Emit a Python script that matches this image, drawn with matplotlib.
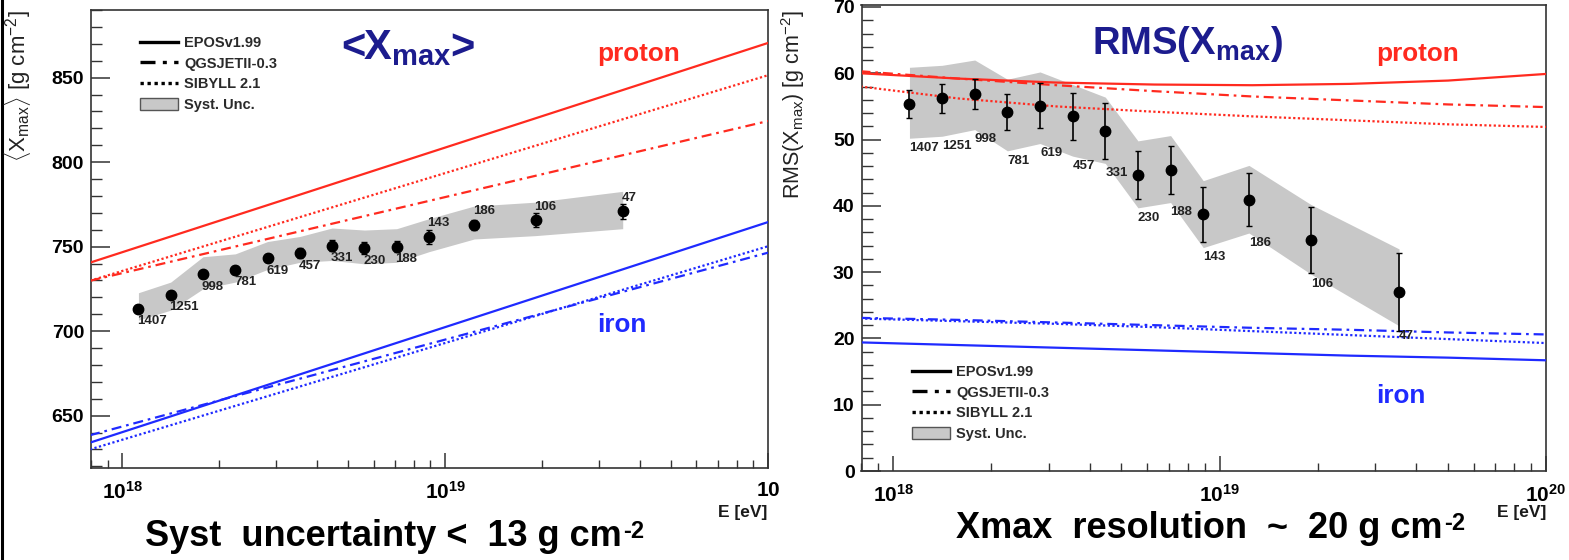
import numpy as np
import matplotlib
matplotlib.use("Agg")
import matplotlib.pyplot as plt
from matplotlib.lines import Line2D
from matplotlib.patches import Patch
from matplotlib.text import Annotation
from matplotlib.ticker import LogLocator, MultipleLocator, NullFormatter, FixedLocator

plt.rcParams['font.family'] = ['Liberation Sans', 'DejaVu Sans']
plt.rcParams['mathtext.fontset'] = 'custom'
plt.rcParams['mathtext.rm'] = 'Liberation Sans'
plt.rcParams['mathtext.it'] = 'Liberation Sans'
plt.rcParams['mathtext.bf'] = 'Liberation Sans:bold'

# ---- measured data (log10 of energy in eV) ----
lgE = [18.05, 18.15, 18.25, 18.35, 18.45, 18.55, 18.65, 18.75, 18.85, 18.95, 19.09, 19.28, 19.55]
n_events = [1407, 1251, 998, 781, 619, 457, 331, 230, 188, 143, 186, 106, 47]

xmax_mean = [713.2, 721.6, 733.5, 736.3, 743.2, 746.1, 750.6, 749.1, 750.0, 755.7, 762.9, 765.5, 770.8]
xmax_mean_err = [2.0, 2.0, 2.2, 2.5, 2.6, 2.8, 3.2, 3.4, 3.4, 3.9, 3.1, 4.1, 4.7]
xmax_mean_sys_hi = [722.7, 729.0, 744.0, 745.7, 753.0, 756.0, 761.0, 759.8, 760.6, 766.5, 774.0, 776.3, 782.7]
xmax_mean_sys_lo = [706.5, 712.4, 725.0, 729.0, 736.5, 740.7, 741.8, 739.8, 740.7, 747.0, 754.5, 756.5, 760.6]

xmax_rms = [55.4, 56.2, 56.9, 54.1, 55.1, 53.5, 51.3, 44.6, 45.4, 38.7, 40.9, 34.9, 27.0]
xmax_rms_err = [2.1, 2.2, 2.3, 2.7, 3.4, 3.5, 4.2, 3.6, 3.6, 4.1, 4.0, 5.0, 5.9]
xmax_rms_sys_hi = [60.9, 61.2, 62.0, 59.1, 60.2, 58.3, 56.4, 49.8, 50.6, 43.8, 46.1, 40.2, 33.5]
xmax_rms_sys_lo = [50.2, 50.5, 51.5, 48.3, 49.4, 47.5, 46.4, 39.7, 40.5, 33.7, 35.9, 29.7, 21.9]

# ---- air-shower simulation predictions ----
lgE_mean_model = [17.9, 20.0]
mean_p_epos = [740.5, 870.5]
mean_p_qgsjet = [729.8, 824.3]
mean_p_sibyll = [729.8, 851.4]
mean_fe_epos = [634.0, 764.5]
mean_fe_qgsjet = [638.4, 746.4]
mean_fe_sibyll = [630.0, 750.2]

lgE_rms_model = [17.9, 18.2, 18.5, 18.8, 19.1, 19.4, 19.7, 20.0]
rms_p_epos = [60.0, 59.2, 58.6, 58.3, 58.2, 58.4, 58.9, 59.9]
rms_p_qgsjet = [60.3, 59.2, 58.2, 57.3, 56.5, 55.9, 55.3, 54.9]
rms_p_sibyll = [58.0, 56.2, 55.0, 54.2, 53.5, 52.9, 52.3, 51.9]
rms_fe_epos = [19.4, 19.0, 18.6, 18.2, 17.8, 17.4, 17.1, 16.7]
rms_fe_qgsjet = [23.1, 22.8, 22.4, 22.0, 21.6, 21.3, 20.9, 20.6]
rms_fe_sibyll = [23.0, 22.6, 22.2, 21.7, 21.1, 20.5, 19.9, 19.3]

model_names = ["EPOSv1.99", "QGSJETII-0.3", "SIBYLL 2.1"]

RED = "#ff2a1f"
BLUE = "#1f2aff"
NAVY = "#1c1c8e"
BAND = "#c8c8c8"
DASHDOT = (0, (4.5, 2.2, 1.2, 2.2))
DOTTED = (0, (1.0, 1.1))
styles = ["-", DASHDOT, DOTTED]

W, H = 1569, 560
fig = plt.figure(figsize=(W / 100, H / 100), dpi=100)


def fx(px):
    return px / W


def fy(py):
    return 1 - py / H


ax1 = fig.add_axes([fx(91), fy(468), fx(768 - 91), (468 - 10) / H])
ax2 = fig.add_axes([fx(861.5), fy(471), fx(1546 - 861.5), (471 - 5) / H])

E = 10 ** np.array(lgE)


def style_axes(ax):
    ax.set_xscale('log')
    ax.set_xlim(8e17, 1e20)
    for s in ax.spines.values():
        s.set_linewidth(1.2)
        s.set_color('#333333')
    ax.xaxis.set_major_locator(FixedLocator([1e18, 1e19, 1e20]))
    ax.xaxis.set_minor_locator(LogLocator(base=10, subs=np.arange(2, 10)))
    ax.xaxis.set_minor_formatter(NullFormatter())
    ax.tick_params(axis='both', which='both', direction='in', color='#333333')
    ax.tick_params(axis='y', which='major', length=14, width=1.1, pad=5,
                   labelsize=14)
    ax.tick_params(axis='y', which='minor', length=8, width=1.0)
    ax.tick_params(axis='x', which='major', length=11, width=1.1, pad=9,
                   labelsize=15)
    ax.tick_params(axis='x', which='minor', length=6, width=1.0)
    ax.tick_params(top=False, right=False, which='both')


# ---------------- left panel: <Xmax> ----------------
Em = 10 ** np.array(lgE_mean_model)
for vals, ls in zip([mean_p_epos, mean_p_qgsjet, mean_p_sibyll], styles):
    ax1.plot(Em, vals, color=RED, lw=1.6, ls=ls, zorder=3)
for vals, ls in zip([mean_fe_epos, mean_fe_qgsjet, mean_fe_sibyll], styles):
    ax1.plot(Em, vals, color=BLUE, lw=1.6, ls=ls, zorder=3)

ax1.fill_between(E, xmax_mean_sys_lo, xmax_mean_sys_hi, color=BAND, lw=0, zorder=2)
ax1.errorbar(E, xmax_mean, yerr=xmax_mean_err, fmt='o', color='black', ms=7.5,
             elinewidth=1.2, capsize=2.2, capthick=1.0, zorder=5)

for i, (e, v, n) in enumerate(zip(E, xmax_mean, n_events)):
    below = i < 9
    ax1.annotate(str(n), (e, v), xytext=(-1, -9 if below else 10),
                 textcoords='offset points', ha='left', va='center',
                 fontsize=9.5, color='#222222', fontweight='bold', zorder=6)

style_axes(ax1)
ax1.set_ylim(619, 890)
ax1.yaxis.set_major_locator(MultipleLocator(50))
ax1.yaxis.set_minor_locator(MultipleLocator(10))
ax1.set_xticklabels([r'$\mathbf{10^{18}}$', r'$\mathbf{10^{19}}$', r'$\mathbf{10}$'])
for lab in ax1.get_yticklabels():
    lab.set_fontweight('bold')

# ---------------- right panel: RMS(Xmax) ----------------
Er = 10 ** np.array(lgE_rms_model)
for vals, ls in zip([rms_p_epos, rms_p_qgsjet, rms_p_sibyll], styles):
    ax2.plot(Er, vals, color=RED, lw=1.6, ls=ls, zorder=3)
for vals, ls in zip([rms_fe_epos, rms_fe_qgsjet, rms_fe_sibyll], styles):
    ax2.plot(Er, vals, color=BLUE, lw=1.6, ls=ls, zorder=3)

ax2.fill_between(E, xmax_rms_sys_lo, xmax_rms_sys_hi, color=BAND, lw=0, zorder=2)
ax2.errorbar(E, xmax_rms, yerr=xmax_rms_err, fmt='o', color='black', ms=7.5,
             elinewidth=1.2, capsize=2.2, capthick=1.0, zorder=5)

for e, lo, n in zip(E, xmax_rms_sys_lo, n_events):
    ax2.annotate(str(n), (e, lo), xytext=(0, -7), textcoords='offset points',
                 ha='left', va='center', fontsize=9.5, color='#222222',
                 fontweight='bold', zorder=6)

style_axes(ax2)
ax2.set_ylim(0, 70.3)
ax2.yaxis.set_major_locator(MultipleLocator(10))
ax2.yaxis.set_minor_locator(MultipleLocator(2))
ax2.set_xticklabels([r'$\mathbf{10^{18}}$', r'$\mathbf{10^{19}}$', r'$\mathbf{10^{20}}$'])
for lab in ax2.get_yticklabels():
    lab.set_fontweight('bold')

# ---------------- legends ----------------
handles = [Line2D([], [], color='black', lw=2.4, ls=ls) for ls in styles]
handles.append(Patch(facecolor=BAND, edgecolor='#555555', lw=1.0))
labels = model_names + ["Syst. Unc."]
leg_kw = dict(frameon=False, handlelength=2.6, handleheight=0.9,
              handletextpad=0.45, labelspacing=0.45, borderpad=0, borderaxespad=0,
              loc='upper left', prop={'size': 10.5, 'weight': 'bold'})
leg1 = ax1.legend(handles, labels, bbox_to_anchor=((140 - 91) / 677, (468 - 36) / 458),
                  **leg_kw)
leg2 = ax2.legend(handles, labels, bbox_to_anchor=((912 - 861.5) / 684.5, (471 - 365) / 466),
                  **leg_kw)
for leg in (leg1, leg2):
    for t in leg.get_texts():
        t.set_color('#2a2a2a')

# ---------------- texts ----------------
fig.text(fx(341), fy(59), r'<X$_{\mathregular{max}}$>', fontsize=30, color=NAVY,
         fontweight='bold', ha='left', va='baseline')
fig.text(fx(1092), fy(54), r'RMS(X$_{\mathregular{max}}$)', fontsize=27.5, color=NAVY,
         fontweight='bold', ha='left', va='baseline')
label_kw = dict(fontsize=18.8, fontweight='bold', ha='left', va='baseline')
fig.text(fx(597), fy(61), 'proton', color=RED, **label_kw)
fig.text(fx(597), fy(332), 'iron', color=BLUE, **label_kw)
fig.text(fx(1376), fy(61), 'proton', color=RED, **label_kw)
fig.text(fx(1376), fy(403), 'iron', color=BLUE, **label_kw)

fig.text(fx(767), fy(513), 'E [eV]', fontsize=12.5, fontweight='bold', ha='right',
         va='center', color='#1a1a1a')
fig.text(fx(1546), fy(513), 'E [eV]', fontsize=12.5, fontweight='bold', ha='right',
         va='center', color='#1a1a1a')

fig.text(fx(18), fy(10), r'$\langle$X$_{\mathregular{max}}\rangle$ [g cm$^{\mathregular{-2}}$]',
         fontsize=16, rotation=90, ha='center', va='top', color='#222222')
fig.text(fx(793), fy(10), r'RMS(X$_{\mathregular{max}}$) [g cm$^{\mathregular{-2}}$]',
         fontsize=15.5, rotation=90, ha='center', va='top', color='#222222')

# footers with a plain "-2" exponent after the unit
sub_kw = dict(fontsize=17, fontweight='bold', ha='left', va='top', color='black')
t1 = fig.text(fx(145), fy(546), 'Syst  uncertainty <  13 g cm', fontsize=26,
              fontweight='bold', ha='left', va='baseline', color='black')
t2 = fig.text(fx(956), fy(538), 'Xmax  resolution  ~  20 g cm', fontsize=26,
              fontweight='bold', ha='left', va='baseline', color='black')
for t in (t1, t2):
    fig.add_artist(Annotation('-2', xy=(1.0, 0.98), xycoords=t,
                              xytext=(1, 0), textcoords='offset points', **sub_kw))

# frame edge on the left side of the figure
fig.add_artist(Line2D([fx(1.5), fx(1.5)], [0, 1], color='black', lw=2.2,
                      transform=fig.transFigure))

fig.savefig('out.png', dpi=100)
